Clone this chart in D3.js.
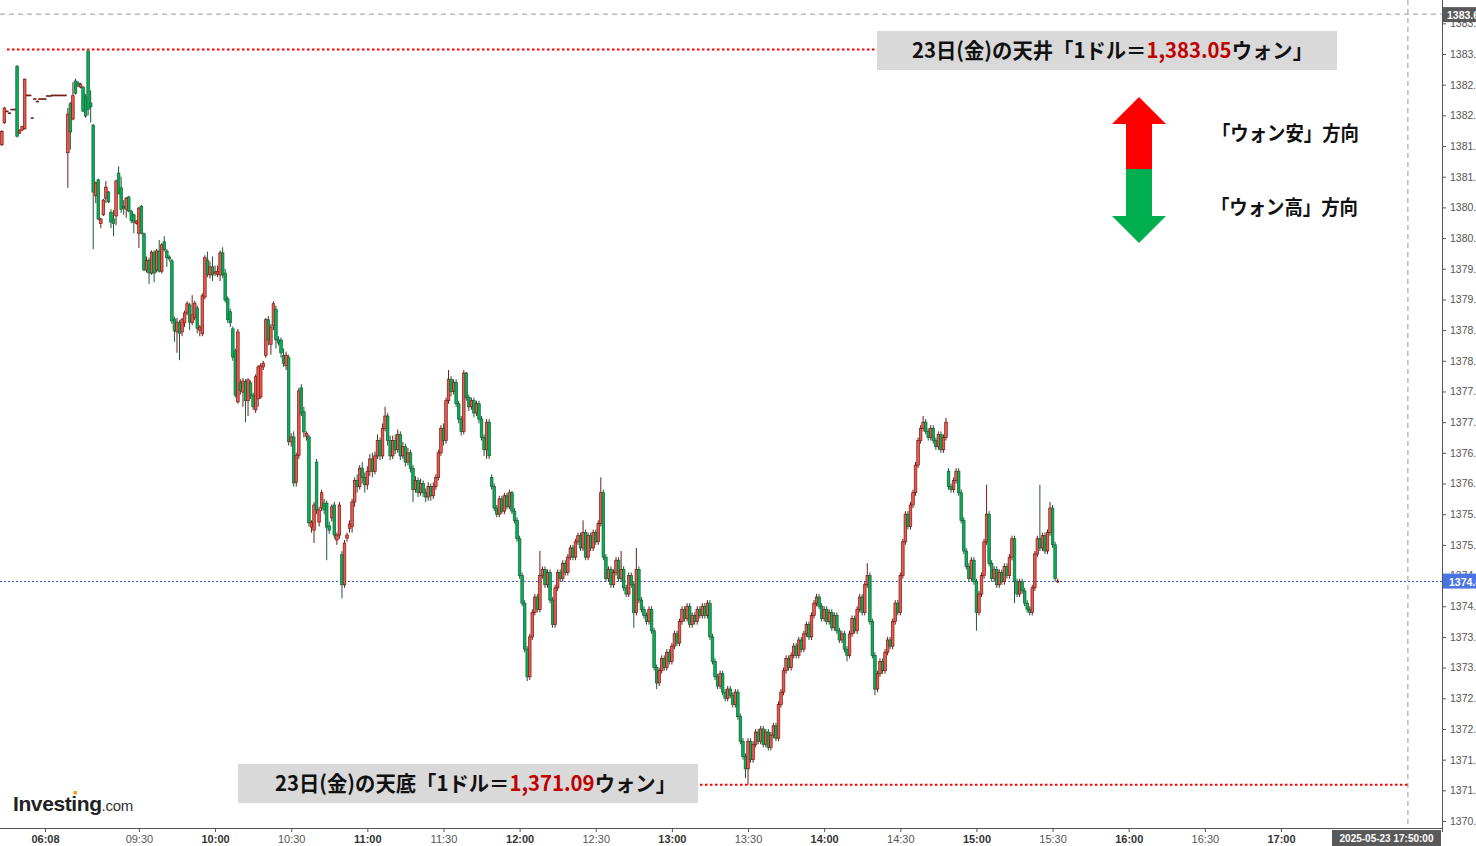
<!DOCTYPE html>
<html>
<head>
<meta charset="utf-8">
<script src="https://cdn.jsdelivr.net/npm/d3@7"></script>
<style>
  html, body { margin: 0; padding: 0; background: #fff; overflow: hidden; }
  svg { display: block; }
</style>
</head>
<body>
<svg id="chart"></svg>
<script>
// 1-minute USD/KRW bars, [open, high, low, close], split by session block
var barsPre = [
  [1381.52,1381.76,1381.50,1381.74],[1381.88,1382.14,1381.86,1382.12],[1382.07,1382.08,1382.06,1382.07],[1382.04,1382.05,1382.03,1382.04],
  [1382.10,1382.11,1382.09,1382.10],[1382.10,1382.11,1382.09,1382.10],[1382.80,1382.82,1381.64,1381.66],[1381.71,1381.77,1381.70,1381.76],
  [1381.76,1381.83,1381.75,1381.82],[1381.78,1382.60,1381.77,1382.59],[1382.33,1382.34,1382.32,1382.33],[1382.33,1382.34,1382.32,1382.33],
  [1381.96,1381.97,1381.95,1381.96],[1382.27,1382.28,1382.26,1382.27],[1382.23,1382.24,1382.22,1382.23],[1382.27,1382.28,1382.26,1382.27],
  [1382.27,1382.28,1382.26,1382.27],[1382.27,1382.28,1382.26,1382.27],[1382.32,1382.33,1382.31,1382.32],[1382.32,1382.33,1382.31,1382.32],
  [1382.33,1382.34,1382.32,1382.33],[1382.33,1382.34,1382.32,1382.33],[1382.33,1382.34,1382.32,1382.33],[1382.33,1382.34,1382.32,1382.33],
  [1382.33,1382.34,1382.32,1382.33],[1382.33,1382.34,1382.32,1382.33],[1381.39,1382.12,1380.82,1382.02],[1382.19,1382.22,1381.44,1381.73],
  [1381.94,1382.54,1381.92,1382.32],[1382.56,1382.60,1382.34,1382.36],[1382.53,1382.56,1382.46,1382.48],[1382.46,1382.53,1382.44,1382.51],
  [1382.46,1382.48,1382.05,1382.07],[1382.30,1382.35,1381.96,1381.99],[1383.05,1383.05,1382.00,1382.10],[1382.20,1382.41,1381.88,1382.14],
  [1381.84,1381.86,1379.82,1380.75],[1380.69,1380.92,1380.57,1380.90],[1380.95,1380.97,1380.29,1380.31],[1380.24,1380.33,1380.16,1380.31],
  [1380.38,1380.64,1380.36,1380.62],[1380.65,1380.93,1380.57,1380.83],[1380.75,1380.77,1380.57,1380.59],[1380.42,1380.47,1380.16,1380.26],
  [1380.31,1380.46,1380.03,1380.24],[1380.36,1380.95,1380.21,1380.93],[1381.06,1381.17,1380.71,1380.73],[1380.82,1381.00,1380.41,1380.47],
  [1380.52,1380.62,1380.38,1380.49],[1380.47,1380.67,1380.33,1380.65],[1380.67,1380.69,1380.42,1380.44],[1380.44,1380.46,1380.24,1380.29],
  [1380.38,1380.40,1380.08,1380.26],[1380.24,1380.29,1380.22,1380.28]
];
var bars0930 = [
  [1380.08,1380.51,1379.84,1380.49],[1380.52,1380.54,1380.06,1380.08],[1380.07,1380.09,1379.46,1379.48],[1379.48,1379.70,1379.44,1379.64],
  [1379.64,1379.68,1379.25,1379.43],[1379.43,1379.80,1379.40,1379.77],[1379.76,1379.80,1379.28,1379.43],[1379.48,1379.82,1379.44,1379.79],
  [1379.79,1379.97,1379.44,1379.46],[1379.46,1379.92,1379.42,1379.89],[1379.94,1380.03,1379.78,1379.81],[1379.79,1379.82,1379.53,1379.68],
  [1379.69,1379.72,1379.62,1379.66],[1379.63,1379.66,1378.60,1378.65],[1378.68,1378.72,1378.31,1378.49],[1378.47,1378.70,1378.13,1378.63],
  [1378.62,1378.66,1378.01,1378.45],[1378.47,1378.70,1378.40,1378.67],[1378.62,1378.82,1378.55,1378.78],[1378.78,1378.97,1378.74,1378.93],
  [1378.91,1378.95,1378.50,1378.63],[1378.62,1379.07,1378.58,1378.75],[1378.70,1378.98,1378.66,1378.94],[1378.86,1378.90,1378.45,1378.53],
  [1378.50,1378.58,1378.40,1378.55],[1378.44,1379.10,1378.40,1379.06],[1379.04,1379.72,1379.00,1379.68],[1379.64,1379.78,1379.36,1379.41],
  [1379.40,1379.62,1379.34,1379.53],[1379.53,1379.70,1379.30,1379.40],[1379.43,1379.55,1379.38,1379.45],[1379.41,1379.55,1379.36,1379.46],
  [1379.40,1379.80,1379.30,1379.76],[1379.76,1379.85,1379.35,1379.40],[1379.43,1379.50,1378.95,1378.99],[1379.01,1379.05,1378.62,1378.67],
  [1378.80,1378.85,1378.55,1378.62],[1378.52,1378.56,1378.00,1378.06],[1378.16,1378.20,1377.40,1377.44],[1377.33,1378.52,1377.30,1378.47],
  [1377.64,1377.70,1377.45,1377.51],[1377.49,1377.72,1377.25,1377.67],[1377.66,1377.70,1377.00,1377.35],[1377.35,1377.72,1377.10,1377.69],
  [1377.64,1377.68,1377.38,1377.44],[1377.44,1377.48,1377.20,1377.25],[1377.20,1377.78,1377.15,1377.74],[1377.38,1377.93,1377.25,1377.90],
  [1377.41,1377.96,1377.38,1377.92],[1377.90,1378.00,1377.85,1377.96],[1378.09,1378.70,1378.05,1378.67],[1378.67,1378.73,1378.25,1378.34],
  [1378.27,1378.60,1378.10,1378.55],[1378.57,1378.97,1378.50,1378.93],[1378.84,1378.90,1378.20,1378.34],[1378.34,1378.40,1378.25,1378.29],
  [1378.34,1378.38,1378.05,1378.13],[1378.09,1378.20,1377.90,1377.96],[1377.92,1378.15,1377.85,1378.09],[1378.05,1378.10,1376.62,1376.68]
];
var bars1030 = [
  [1376.68,1376.82,1376.60,1376.76],[1376.76,1376.85,1375.95,1376.01],[1376.02,1376.50,1375.95,1376.46],[1376.46,1377.56,1376.40,1377.51],
  [1377.56,1377.62,1377.10,1377.15],[1377.17,1377.25,1376.75,1376.84],[1376.77,1376.85,1376.70,1376.82],[1376.76,1376.80,1375.30,1375.36],
  [1375.29,1375.40,1375.20,1375.37],[1375.24,1375.70,1375.03,1375.65],[1376.35,1376.40,1375.50,1375.57],[1375.37,1375.62,1375.30,1375.57],
  [1375.60,1375.90,1375.55,1375.85],[1375.68,1375.75,1375.50,1375.57],[1375.68,1375.72,1374.75,1375.29],[1375.31,1375.38,1375.18,1375.24],
  [1375.44,1375.66,1375.38,1375.62],[1375.65,1375.70,1375.10,1375.16],[1375.08,1375.20,1375.00,1375.16],[1375.16,1375.70,1375.10,1375.65],
  [1374.84,1374.90,1374.13,1374.35],[1374.35,1375.08,1374.30,1375.03],[1375.11,1375.20,1375.05,1375.16],[1375.27,1375.40,1375.20,1375.34],
  [1375.30,1375.75,1375.20,1375.70],[1375.70,1376.10,1375.62,1376.05],[1376.05,1376.15,1375.85,1375.95],[1375.95,1376.30,1375.90,1376.25],
  [1376.25,1376.35,1376.00,1376.10],[1376.10,1376.18,1375.85,1375.98],[1375.98,1376.28,1375.90,1376.20],[1376.20,1376.48,1376.12,1376.40],
  [1376.40,1376.50,1376.10,1376.20],[1376.20,1376.52,1376.15,1376.45],[1376.45,1376.80,1376.40,1376.70],[1376.70,1376.75,1376.38,1376.45],
  [1376.45,1376.98,1376.40,1376.90],[1376.90,1377.25,1376.85,1377.10],[1377.10,1377.15,1376.62,1376.70],[1376.70,1376.78,1376.38,1376.45],
  [1376.45,1376.78,1376.40,1376.70],[1376.70,1376.80,1376.48,1376.55],[1376.55,1376.88,1376.50,1376.80],[1376.80,1376.85,1376.38,1376.45],
  [1376.45,1376.68,1376.40,1376.60],[1376.60,1376.65,1376.28,1376.35],[1376.35,1376.58,1376.30,1376.50],[1376.50,1376.55,1376.18,1376.25],
  [1376.25,1376.30,1375.70,1375.90],[1375.90,1376.12,1375.85,1376.05],[1376.05,1376.10,1375.78,1375.85],[1375.85,1376.08,1375.80,1376.00],
  [1376.00,1376.05,1375.78,1375.85],[1375.85,1375.92,1375.70,1375.78],[1375.78,1376.02,1375.72,1375.95],[1375.95,1376.00,1375.72,1375.80],
  [1375.80,1376.02,1375.75,1375.95],[1375.95,1376.15,1375.90,1376.10],[1376.10,1376.55,1376.05,1376.50],[1376.50,1376.95,1376.45,1376.90]
];
var bars1130 = [
  [1376.90,1376.98,1376.62,1376.70],[1376.70,1377.40,1376.65,1377.35],[1377.35,1377.85,1377.30,1377.70],[1377.70,1377.75,1377.42,1377.50],
  [1377.50,1377.70,1377.45,1377.65],[1377.65,1377.70,1377.25,1377.30],[1377.30,1377.35,1376.98,1377.05],[1377.05,1377.10,1376.78,1376.85],
  [1376.85,1377.85,1376.80,1377.80],[1377.80,1377.82,1377.35,1377.40],[1377.40,1377.45,1377.18,1377.25],[1377.25,1377.40,1377.20,1377.35],
  [1377.35,1377.40,1377.08,1377.15],[1377.15,1377.35,1377.10,1377.30],[1377.30,1377.35,1376.98,1377.05],[1377.05,1377.10,1376.70,1376.75],
  [1376.75,1376.80,1376.45,1376.55],[1376.55,1377.05,1376.40,1377.00],[1377.00,1377.05,1376.40,1376.45],[1376.10,1376.15,1375.90,1375.95],
  [1375.95,1376.00,1375.55,1375.60],[1375.60,1375.65,1375.45,1375.50],[1375.50,1375.80,1375.45,1375.75],[1375.75,1375.80,1375.50,1375.55],
  [1375.55,1375.85,1375.50,1375.80],[1375.80,1375.85,1375.58,1375.62],[1375.62,1375.90,1375.58,1375.85],[1375.85,1375.88,1375.50,1375.55],
  [1375.55,1375.60,1375.35,1375.40],[1375.40,1375.45,1375.05,1375.10],[1375.10,1375.15,1374.45,1374.50],[1374.50,1374.55,1374.00,1374.05],
  [1374.05,1374.10,1373.25,1373.30],[1373.30,1373.35,1372.78,1372.85],[1372.85,1373.55,1372.80,1373.50],[1373.50,1373.95,1373.45,1373.90],
  [1373.90,1374.20,1373.85,1374.15],[1374.15,1374.20,1373.90,1373.95],[1373.95,1374.90,1373.90,1374.50],[1374.50,1374.65,1374.45,1374.60],
  [1374.60,1374.65,1374.30,1374.35],[1374.35,1374.60,1374.30,1374.55],[1374.55,1374.60,1374.05,1374.10],[1374.10,1374.15,1373.65,1373.70],
  [1373.70,1374.35,1373.65,1374.30],[1374.30,1374.60,1374.25,1374.55],[1374.55,1374.60,1374.40,1374.45],[1374.45,1374.75,1374.40,1374.70],
  [1374.70,1374.75,1374.50,1374.55],[1374.55,1374.85,1374.50,1374.80],[1374.80,1375.00,1374.75,1374.95],[1374.95,1375.00,1374.75,1374.80],
  [1374.80,1375.10,1374.75,1375.05],[1375.05,1375.20,1375.00,1375.15],[1375.15,1375.20,1374.90,1374.95],[1374.95,1375.40,1374.90,1375.20],
  [1375.20,1375.25,1374.75,1374.80],[1374.80,1375.20,1374.75,1375.15],[1375.15,1375.20,1374.90,1374.95],[1374.95,1375.25,1374.90,1375.20]
];
var bars1230 = [
  [1375.20,1375.25,1375.00,1375.05],[1375.05,1375.40,1375.00,1375.35],[1375.35,1376.10,1375.30,1375.85],[1375.85,1375.90,1374.75,1374.80],
  [1374.80,1374.85,1374.40,1374.45],[1374.45,1374.65,1374.40,1374.60],[1374.60,1374.65,1374.30,1374.35],[1374.35,1374.60,1374.30,1374.55],
  [1374.55,1374.80,1374.50,1374.75],[1374.75,1374.80,1374.40,1374.45],[1374.45,1374.90,1374.40,1374.60],[1374.60,1374.65,1374.25,1374.30],
  [1374.30,1374.35,1374.15,1374.20],[1374.20,1374.55,1374.15,1374.50],[1374.50,1374.55,1374.30,1374.35],[1374.35,1374.40,1373.65,1373.90],
  [1373.90,1374.95,1373.85,1374.60],[1374.60,1374.65,1374.05,1374.10],[1374.10,1374.15,1373.90,1373.95],[1373.95,1374.00,1373.80,1373.85],
  [1373.85,1373.90,1373.70,1373.75],[1373.75,1374.00,1373.70,1373.95],[1373.95,1374.00,1373.55,1373.60],[1373.60,1373.65,1372.95,1373.00],
  [1373.00,1373.05,1372.65,1372.75],[1372.75,1373.00,1372.70,1372.95],[1372.95,1373.20,1372.90,1373.15],[1373.15,1373.20,1372.95,1373.00],
  [1373.00,1373.30,1372.95,1373.25],[1373.25,1373.30,1373.05,1373.10],[1373.10,1373.40,1373.05,1373.35],[1373.35,1373.60,1373.30,1373.55],
  [1373.55,1373.60,1373.35,1373.40],[1373.40,1373.80,1373.35,1373.75],[1373.75,1374.00,1373.70,1373.95],[1373.95,1374.00,1373.75,1373.80],
  [1373.80,1374.05,1373.75,1374.00],[1374.00,1374.05,1373.65,1373.70],[1373.70,1373.90,1373.65,1373.85],[1373.85,1373.90,1373.70,1373.75],
  [1373.75,1374.00,1373.70,1373.95],[1373.95,1374.00,1373.80,1373.85],[1373.85,1374.05,1373.80,1374.00],[1374.00,1374.05,1373.80,1373.85],
  [1373.85,1374.10,1373.80,1374.05],[1374.05,1374.10,1373.45,1373.50],[1373.50,1373.55,1373.05,1373.10],[1373.10,1373.15,1372.80,1372.85],
  [1372.85,1372.90,1372.65,1372.70],[1372.70,1372.95,1372.65,1372.90],[1372.90,1372.95,1372.55,1372.60],[1372.60,1372.65,1372.45,1372.50],
  [1372.50,1372.70,1372.45,1372.65],[1372.65,1372.70,1372.50,1372.55],[1372.55,1372.60,1372.35,1372.40],[1372.40,1372.65,1372.35,1372.60],
  [1372.60,1372.65,1372.15,1372.20],[1372.20,1372.25,1371.75,1371.80],[1371.80,1371.85,1371.50,1371.55],[1371.55,1371.60,1371.20,1371.35]
];
var bars1330 = [
  [1371.35,1371.85,1371.09,1371.80],[1371.80,1371.85,1371.45,1371.50],[1371.50,1371.80,1371.45,1371.75],[1371.75,1372.00,1371.70,1371.95],
  [1371.95,1372.00,1371.75,1371.80],[1371.80,1372.05,1371.75,1372.00],[1372.00,1372.05,1371.70,1371.75],[1371.75,1372.00,1371.70,1371.95],
  [1371.95,1372.00,1371.65,1371.70],[1371.70,1371.95,1371.65,1371.90],[1371.90,1372.10,1371.85,1372.05],[1372.05,1372.10,1371.80,1371.85],
  [1371.85,1372.45,1371.80,1372.40],[1372.40,1372.65,1372.35,1372.60],[1372.60,1373.00,1372.55,1372.95],[1372.95,1373.20,1372.90,1373.15],
  [1373.15,1373.20,1372.95,1373.00],[1373.00,1373.25,1372.95,1373.20],[1373.20,1373.40,1373.15,1373.35],[1373.35,1373.40,1373.15,1373.20],
  [1373.20,1373.50,1373.15,1373.45],[1373.45,1373.50,1373.25,1373.30],[1373.30,1373.60,1373.25,1373.55],[1373.55,1373.75,1373.50,1373.70],
  [1373.70,1373.75,1373.45,1373.50],[1373.50,1373.90,1373.45,1373.85],[1373.85,1374.10,1373.80,1374.05],[1374.05,1374.20,1374.00,1374.15],
  [1374.15,1374.20,1373.95,1374.00],[1374.00,1374.05,1373.75,1373.80],[1373.80,1374.00,1373.75,1373.95],[1373.95,1374.00,1373.70,1373.75],
  [1373.75,1373.95,1373.70,1373.90],[1373.90,1373.95,1373.60,1373.65],[1373.65,1373.90,1373.60,1373.85],[1373.85,1373.90,1373.55,1373.60],
  [1373.60,1373.65,1373.40,1373.45],[1373.45,1373.60,1373.40,1373.55],[1373.55,1373.60,1373.25,1373.30],[1373.30,1373.35,1373.10,1373.20],
  [1373.20,1373.60,1373.15,1373.55],[1373.55,1373.85,1373.50,1373.80],[1373.80,1373.85,1373.55,1373.60],[1373.60,1374.00,1373.55,1373.95],
  [1373.95,1374.20,1373.90,1374.15],[1374.15,1374.20,1373.85,1373.90],[1373.90,1374.40,1373.85,1374.35],[1374.35,1374.70,1374.30,1374.50],
  [1374.50,1374.55,1373.70,1373.75],[1373.75,1373.80,1373.15,1373.20],[1373.20,1373.25,1372.55,1372.65],[1372.65,1372.95,1372.60,1372.90],
  [1372.90,1373.15,1372.85,1373.10],[1373.10,1373.15,1372.90,1372.95],[1372.95,1373.30,1372.90,1373.25],[1373.25,1373.50,1373.20,1373.45],
  [1373.45,1373.50,1373.30,1373.35],[1373.35,1373.80,1373.30,1373.75],[1373.75,1374.10,1373.70,1374.05],[1374.05,1374.10,1373.85,1373.90]
];
var bars1430 = [
  [1373.90,1374.55,1373.85,1374.50],[1374.50,1375.10,1374.45,1375.05],[1375.05,1375.55,1375.00,1375.50],[1375.50,1375.55,1375.25,1375.30],
  [1375.30,1375.70,1375.25,1375.65],[1375.65,1375.90,1375.60,1375.85],[1375.85,1376.35,1375.80,1376.30],[1376.30,1376.75,1376.25,1376.70],
  [1376.70,1376.95,1376.65,1376.90],[1376.90,1377.10,1376.85,1377.00],[1377.00,1377.05,1376.80,1376.85],[1376.85,1376.90,1376.70,1376.75],
  [1376.75,1376.95,1376.70,1376.90],[1376.90,1376.95,1376.65,1376.70],[1376.70,1376.75,1376.55,1376.60],[1376.60,1376.85,1376.55,1376.80],
  [1376.80,1376.85,1376.50,1376.55],[1376.55,1376.80,1376.50,1376.75],[1376.75,1377.07,1376.70,1377.00],[1376.20,1376.25,1375.90,1375.95],
  [1375.95,1376.00,1375.85,1375.90],[1375.90,1376.10,1375.85,1376.05],[1376.05,1376.25,1376.00,1376.20],[1376.20,1376.25,1375.80,1375.85],
  [1375.85,1375.90,1375.35,1375.40],[1375.40,1375.45,1374.85,1374.90],[1374.90,1374.95,1374.60,1374.65],[1374.65,1374.70,1374.40,1374.45],
  [1374.45,1374.80,1374.40,1374.75],[1374.75,1374.80,1374.35,1374.40],[1374.40,1374.45,1373.60,1373.90],[1373.90,1374.25,1373.85,1374.20],
  [1374.20,1374.55,1374.15,1374.50],[1374.50,1375.10,1374.45,1375.05],[1375.05,1375.98,1375.00,1375.50],[1375.50,1375.55,1374.65,1374.70],
  [1374.70,1374.75,1374.40,1374.45],[1374.45,1374.65,1374.40,1374.60],[1374.60,1374.65,1374.30,1374.35],[1374.35,1374.60,1374.30,1374.55],
  [1374.55,1374.60,1374.35,1374.40],[1374.40,1374.70,1374.35,1374.65],[1374.65,1374.70,1374.45,1374.50],[1374.50,1374.85,1374.45,1374.80],
  [1374.80,1375.15,1374.75,1375.10],[1375.10,1375.15,1374.05,1374.40],[1374.40,1374.45,1374.15,1374.20],[1374.20,1374.45,1374.15,1374.40],
  [1374.40,1374.45,1374.20,1374.25],[1374.25,1374.30,1374.00,1374.05],[1374.05,1374.10,1373.90,1373.95],[1373.95,1374.00,1373.85,1373.90],
  [1373.90,1374.35,1373.85,1374.30],[1374.30,1374.90,1374.25,1374.85],[1374.85,1375.15,1374.80,1375.10],[1375.10,1375.98,1374.90,1374.95],
  [1374.95,1375.20,1374.90,1375.15],[1375.15,1375.20,1374.85,1374.90],[1374.90,1375.25,1374.85,1375.20],[1375.20,1375.70,1375.15,1375.60],
  [1375.60,1375.65,1374.95,1375.00],[1375.00,1375.05,1374.40,1374.45],[1374.40,1374.45,1374.38,1374.41]
];
// minute index (0 = 09:30) of the first bar in each block
var blockStart = [-54, 0, 60, 120, 180, 240, 300];

// axis ticks
var timeTicks = [-37, 0, 30, 60, 90, 120, 150, 180, 210, 240, 270, 300, 330, 360, 390, 420, 450];
var timeLabels = ["06:08", "09:30", "10:00", "10:30", "11:00", "11:30", "12:00", "12:30", "13:00",
                  "13:30", "14:00", "14:30", "15:00", "15:30", "16:00", "16:30", "17:00"];
var priceTicks = [1370.5, 1371, 1371.5, 1372, 1372.5, 1373, 1373.5, 1374, 1374.5, 1375, 1375.5, 1376, 1376.5,
                  1377, 1377.5, 1378, 1378.5, 1379, 1379.5, 1380, 1380.5, 1381, 1381.5, 1382, 1382.5, 1383, 1383.5];

// crosshair, last price, day extremes
var crossTime = 500, crossLabel = "2025-05-23 17:50:00";
var crossPrice = 1383.65;
var lastPrice = 1374.41;
var dayHigh = 1383.05, dayLow = 1371.09;

var width = 1476, height = 846;
var plotRight = 1442, plotBottom = 828;

var x = d3.scaleLinear().domain([0, 450]).range([138.9, 1281]);
var y = d3.scaleLinear().domain([1370.5, 1383]).range([821, 54]);

var svg = d3.select("#chart").attr("width", width).attr("height", height)
  .style("font-family", "Arial, 'Liberation Sans', sans-serif");

// flatten blocks into one list of bars with minute index
var bars = [];
[barsPre, bars0930, bars1030, bars1130, bars1230, bars1330, bars1430].forEach(function(block, b) {
  block.forEach(function(d, k) {
    bars.push({ i: blockStart[b] + k, o: d[0], h: d[1], l: d[2], c: d[3] });
  });
});

// crosshair dashed lines
svg.append("line")
  .attr("x1", 0).attr("x2", plotRight)
  .attr("y1", y(crossPrice)).attr("y2", y(crossPrice))
  .attr("stroke", "#9a9a9a").attr("stroke-dasharray", "5,4");
svg.append("line")
  .attr("x1", x(crossTime)).attr("x2", x(crossTime))
  .attr("y1", 0).attr("y2", plotBottom)
  .attr("stroke", "#9a9a9a").attr("stroke-dasharray", "5,4");

// last price line
svg.append("line")
  .attr("x1", 0).attr("x2", plotRight)
  .attr("y1", Math.round(y(lastPrice)) + 0.5).attr("y2", Math.round(y(lastPrice)) + 0.5)
  .attr("stroke", "#3b5fc9").attr("stroke-dasharray", "2,2");

// high / low red dotted lines
svg.append("line")
  .attr("x1", 7).attr("x2", 875)
  .attr("y1", y(dayHigh) - 1.5).attr("y2", y(dayHigh) - 1.5)
  .attr("stroke", "#ff0000").attr("stroke-width", 2).attr("stroke-dasharray", "2.5,2.5");
svg.append("line")
  .attr("x1", 700).attr("x2", 1410)
  .attr("y1", y(dayLow)).attr("y2", y(dayLow))
  .attr("stroke", "#ff0000").attr("stroke-width", 2).attr("stroke-dasharray", "2.5,2.5");

// candles: red = close above open (won weaker), green = close below open
var candles = svg.append("g").attr("class", "candles");
function isUp(d) { return d.c >= d.o; }

candles.selectAll("line")
  .data(bars)
  .enter()
  .append("line")
  .attr("x1", function(d) { return x(d.i); })
  .attr("x2", function(d) { return x(d.i); })
  .attr("y1", function(d) { return y(d.h); })
  .attr("y2", function(d) { return y(d.l); })
  .attr("stroke", function(d) { return isUp(d) ? "#6e1d17" : "#1c5a36"; })
  .attr("stroke-width", 1);

candles.selectAll("rect")
  .data(bars)
  .enter()
  .append("rect")
  .attr("x", function(d) { return x(d.i) - 1.3; })
  .attr("width", 2.6)
  .attr("y", function(d) { return y(Math.max(d.o, d.c)); })
  .attr("height", function(d) { return Math.max(0.8, Math.abs(y(d.o) - y(d.c))); })
  .attr("fill", function(d) { return isUp(d) ? "#f4554c" : "#00b356"; })
  .attr("stroke", function(d) { return isUp(d) ? "#6e1d17" : "#1c5a36"; })
  .attr("stroke-width", 0.7);

// right price axis
var yAxis = d3.axisRight(y).tickValues(priceTicks).tickFormat(d3.format(".2f")).tickSize(4).tickPadding(4);
var gy = svg.append("g").attr("transform", "translate(" + plotRight + ",0)").call(yAxis);
gy.select(".domain").remove();
gy.selectAll("line").attr("stroke", "#555");
gy.selectAll("text").attr("fill", "#555").style("font-size", "10.5px");
svg.append("line")
  .attr("x1", plotRight + 0.5).attr("x2", plotRight + 0.5)
  .attr("y1", 0).attr("y2", plotBottom + 4)
  .attr("stroke", "#555");

// bottom time axis
var xAxis = d3.axisBottom(x).tickValues(timeTicks)
  .tickFormat(function(d, k) { return timeLabels[k]; })
  .tickSize(4).tickPadding(3);
var gx = svg.append("g").attr("transform", "translate(0," + plotBottom + ")").call(xAxis);
gx.select(".domain").remove();
gx.selectAll("line").attr("stroke", "#555");
gx.selectAll("text")
  .attr("fill", function(d, k) { return timeLabels[k].slice(3) == "00" || k == 0 ? "#333" : "#555"; })
  .style("font-size", "11px")
  .style("font-weight", function(d, k) { return timeLabels[k].slice(3) == "00" || k == 0 ? "bold" : "normal"; });
svg.append("line")
  .attr("x1", 0).attr("x2", plotRight)
  .attr("y1", plotBottom + 0.5).attr("y2", plotBottom + 0.5)
  .attr("stroke", "#555");

// crosshair labels
svg.append("rect").attr("x", 1332).attr("y", 830).attr("width", 109).attr("height", 16).attr("fill", "#595959");
svg.append("text").attr("x", 1386.5).attr("y", 842).attr("text-anchor", "middle")
  .attr("fill", "#fff").style("font-size", "10px").style("font-weight", "bold").text(crossLabel);
svg.append("rect").attr("x", 1443).attr("y", y(crossPrice) - 7).attr("width", 33).attr("height", 15).attr("fill", "#595959");
svg.append("text").attr("x", 1447).attr("y", y(crossPrice) + 4.5)
  .attr("fill", "#fff").style("font-size", "10.5px").style("font-weight", "bold").text(d3.format(".2f")(crossPrice));

// last price label
svg.append("rect").attr("x", 1443).attr("y", y(lastPrice) - 7.5).attr("width", 33).attr("height", 15).attr("fill", "#4a74e4");
svg.append("text").attr("x", 1449).attr("y", y(lastPrice) + 4.5)
  .attr("fill", "#fff").style("font-size", "10.5px").style("font-weight", "bold").text(d3.format(".2f")(lastPrice));

// annotation boxes
var jp = "'Noto Sans CJK JP', 'Noto Sans', sans-serif";
function note(bx, by, tx, ty, word, value) {
  svg.append("rect").attr("x", bx).attr("y", by).attr("width", 460).attr("height", 39).attr("fill", "#d9d9d9");
  var t = svg.append("text").attr("x", tx).attr("y", ty)
    .attr("textLength", 401).attr("lengthAdjust", "spacingAndGlyphs")
    .style("font-family", jp).style("font-size", "21px").style("font-weight", "bold").attr("fill", "#111");
  t.append("tspan").text("23日(金)の" + word + "「1ドル＝");
  t.append("tspan").attr("fill", "#c00000").text(d3.format(",.2f")(value));
  t.append("tspan").text("ウォン」");
}
note(877, 31, 912, 58, "天井", dayHigh);
note(238, 764, 275, 791, "天底", dayLow);

// direction arrows
svg.append("polygon")
  .attr("points", "1139,97 1166,124 1152,124 1152,170 1126,170 1126,124 1112,124")
  .attr("fill", "#ff0000");
svg.append("polygon")
  .attr("points", "1126,169 1152,169 1152,216 1166,216 1139,243 1112,216 1126,216")
  .attr("fill", "#00b050");
svg.append("text").attr("x", 1212).attr("y", 141)
  .attr("textLength", 147).attr("lengthAdjust", "spacingAndGlyphs")
  .style("font-family", jp).style("font-size", "20px").style("font-weight", "bold").attr("fill", "#111")
  .text("「ウォン安」方向");
svg.append("text").attr("x", 1211).attr("y", 215)
  .attr("textLength", 147).attr("lengthAdjust", "spacingAndGlyphs")
  .style("font-family", jp).style("font-size", "20px").style("font-weight", "bold").attr("fill", "#111")
  .text("「ウォン高」方向");

// Investing.com logo
var logo = svg.append("text").attr("x", 13).attr("y", 811);
logo.append("tspan").text("Investing")
  .style("font-size", "21px").style("font-weight", "bold").style("letter-spacing", "-0.4px").attr("fill", "#222");
logo.append("tspan").text(".com")
  .style("font-size", "15px").style("letter-spacing", "-0.3px").attr("fill", "#333");
svg.append("rect").attr("x", 73.5).attr("y", 791).attr("width", 3.5).attr("height", 3.5).attr("fill", "#f5a01a");
</script>
</body>
</html>
